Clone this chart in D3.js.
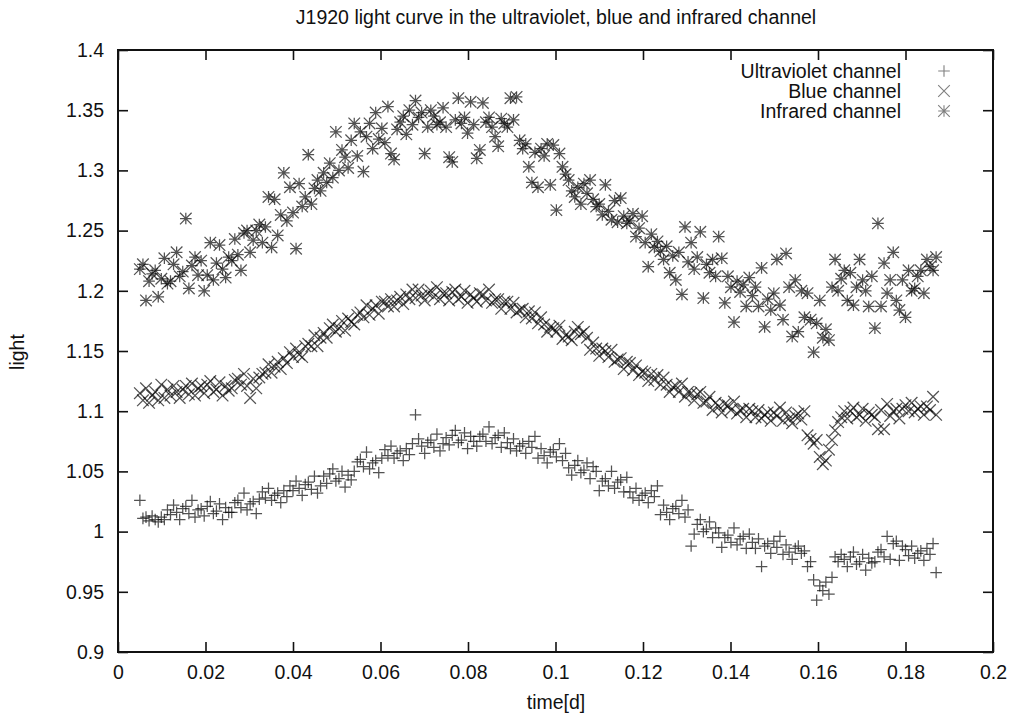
<!DOCTYPE html>
<html>
<head>
<meta charset="utf-8">
<script src="https://cdn.jsdelivr.net/npm/d3@7"></script>
<style>
  html, body { margin: 0; padding: 0; background: #fff; }
  svg { display: block; }
  text { font-family: "Liberation Sans", Arial, Helvetica, sans-serif; fill: #111; }
</style>
</head>
<body>
<svg id="chart" width="1018" height="713"></svg>
<script>
// Observation times [d], shared by the three channels
const times = [
  0.0050,0.0057,0.0064,0.0071,0.0078,0.0085,0.0092,0.0099,0.0106,0.0113,
  0.0120,0.0127,0.0134,0.0141,0.0148,0.0155,0.0162,0.0169,0.0176,0.0183,
  0.0190,0.0197,0.0204,0.0211,0.0218,0.0225,0.0232,0.0239,0.0246,0.0253,
  0.0260,0.0267,0.0274,0.0281,0.0288,0.0295,0.0302,0.0309,0.0316,0.0323,
  0.0330,0.0337,0.0344,0.0351,0.0358,0.0365,0.0372,0.0379,0.0386,0.0393,
  0.0400,0.0407,0.0414,0.0421,0.0428,0.0435,0.0442,0.0449,0.0456,0.0463,
  0.0470,0.0477,0.0484,0.0491,0.0498,0.0505,0.0512,0.0519,0.0526,0.0533,
  0.0540,0.0547,0.0554,0.0561,0.0568,0.0575,0.0582,0.0589,0.0596,0.0603,
  0.0610,0.0617,0.0624,0.0631,0.0638,0.0645,0.0652,0.0659,0.0666,0.0673,
  0.0680,0.0687,0.0694,0.0701,0.0708,0.0715,0.0722,0.0729,0.0736,0.0743,
  0.0750,0.0757,0.0764,0.0771,0.0778,0.0785,0.0792,0.0799,0.0806,0.0813,
  0.0820,0.0827,0.0834,0.0841,0.0848,0.0855,0.0862,0.0869,0.0876,0.0883,
  0.0890,0.0897,0.0904,0.0911,0.0918,0.0925,0.0932,0.0939,0.0946,0.0953,
  0.0960,0.0967,0.0974,0.0981,0.0988,0.0995,0.1002,0.1009,0.1016,0.1023,
  0.1030,0.1037,0.1044,0.1051,0.1058,0.1065,0.1072,0.1079,0.1086,0.1093,
  0.1100,0.1107,0.1114,0.1121,0.1128,0.1135,0.1142,0.1149,0.1156,0.1163,
  0.1170,0.1177,0.1184,0.1191,0.1198,0.1205,0.1212,0.1219,0.1226,0.1233,
  0.1240,0.1247,0.1254,0.1261,0.1268,0.1275,0.1282,0.1289,0.1296,0.1303,
  0.1310,0.1317,0.1324,0.1331,0.1338,0.1345,0.1352,0.1359,0.1366,0.1373,
  0.1380,0.1387,0.1394,0.1401,0.1408,0.1415,0.1422,0.1429,0.1436,0.1443,
  0.1450,0.1457,0.1464,0.1471,0.1478,0.1485,0.1492,0.1499,0.1506,0.1513,
  0.1520,0.1527,0.1534,0.1541,0.1548,0.1555,0.1562,0.1569,0.1576,0.1583,
  0.1590,0.1597,0.1604,0.1611,0.1618,0.1625,0.1632,0.1639,0.1646,0.1653,
  0.1660,0.1667,0.1674,0.1681,0.1688,0.1695,0.1702,0.1709,0.1716,0.1723,
  0.1730,0.1737,0.1744,0.1751,0.1758,0.1765,0.1772,0.1779,0.1786,0.1793,
  0.1800,0.1807,0.1814,0.1821,0.1828,0.1835,0.1842,0.1849,0.1856,0.1863,
  0.1870
];

// Relative light, ultraviolet channel
const ultraviolet = [
  1.026,1.011,1.012,1.009,1.013,1.010,1.008,1.012,1.010,1.018,
  1.014,1.022,1.016,1.010,1.019,1.021,1.015,1.026,1.012,1.018,
  1.019,1.013,1.021,1.025,1.015,1.017,1.023,1.010,1.020,1.016,
  1.016,1.024,1.026,1.020,1.032,1.018,1.023,1.025,1.015,1.027,
  1.033,1.028,1.036,1.026,1.030,1.032,1.024,1.034,1.029,1.038,
  1.034,1.042,1.036,1.030,1.039,1.041,1.035,1.046,1.032,1.038,
  1.046,1.040,1.048,1.052,1.042,1.044,1.050,1.037,1.047,1.043,
  1.050,1.058,1.060,1.054,1.066,1.052,1.057,1.059,1.049,1.061,
  1.068,1.063,1.071,1.061,1.065,1.067,1.059,1.069,1.064,1.073,
  1.097,1.077,1.071,1.065,1.074,1.076,1.070,1.081,1.067,1.073,
  1.078,1.072,1.080,1.084,1.074,1.076,1.082,1.069,1.079,1.075,
  1.071,1.079,1.081,1.075,1.087,1.073,1.078,1.080,1.070,1.082,
  1.074,1.069,1.077,1.067,1.071,1.073,1.065,1.075,1.070,1.079,
  1.061,1.069,1.063,1.057,1.066,1.068,1.062,1.073,1.059,1.065,
  1.053,1.047,1.055,1.059,1.049,1.051,1.057,1.044,1.054,1.050,
  1.034,1.042,1.044,1.038,1.050,1.036,1.041,1.043,1.033,1.045,
  1.033,1.028,1.036,1.026,1.030,1.032,1.024,1.034,1.029,1.038,
  1.014,1.022,1.016,1.010,1.019,1.021,1.015,1.026,1.012,1.018,
  0.988,0.998,1.006,1.010,1.000,1.002,1.008,0.995,1.003,0.999,
  0.987,0.995,0.997,0.991,1.003,0.989,0.994,0.996,0.986,0.998,
  0.991,0.986,0.994,0.971,0.988,0.990,0.982,0.992,0.987,0.996,
  0.981,0.989,0.983,0.977,0.986,0.988,0.982,0.984,0.971,0.975,
  0.960,0.943,0.955,0.951,0.958,0.948,0.962,0.979,0.975,0.981,
  0.977,0.971,0.979,0.983,0.973,0.975,0.981,0.968,0.978,0.974,
  0.975,0.983,0.985,0.979,0.996,0.977,0.990,0.992,0.976,0.988,
  0.985,0.980,0.988,0.978,0.982,0.984,0.976,0.986,0.981,0.990,
  0.966
];

// Relative light, blue channel
const blue = [
  1.115,1.109,1.119,1.107,1.113,1.116,1.109,1.122,1.111,1.118,
  1.113,1.121,1.116,1.111,1.118,1.121,1.114,1.123,1.113,1.119,
  1.121,1.115,1.122,1.125,1.116,1.118,1.124,1.113,1.121,1.117,
  1.119,1.126,1.127,1.122,1.131,1.121,1.111,1.127,1.119,1.128,
  1.131,1.132,1.139,1.132,1.137,1.141,1.135,1.144,1.140,1.149,
  1.145,1.152,1.147,1.145,1.154,1.156,1.154,1.163,1.154,1.161,
  1.165,1.161,1.169,1.172,1.166,1.169,1.175,1.167,1.177,1.174,
  1.172,1.180,1.182,1.178,1.188,1.180,1.185,1.188,1.181,1.191,
  1.191,1.187,1.193,1.187,1.192,1.195,1.189,1.197,1.193,1.201,
  1.194,1.201,1.196,1.192,1.198,1.200,1.195,1.203,1.193,1.198,
  1.198,1.192,1.199,1.201,1.193,1.195,1.200,1.190,1.197,1.194,
  1.191,1.198,1.197,1.192,1.201,1.190,1.193,1.193,1.185,1.191,
  1.191,1.185,1.190,1.182,1.184,1.185,1.178,1.183,1.177,1.182,
  1.173,1.178,1.172,1.166,1.170,1.169,1.166,1.171,1.160,1.163,
  1.162,1.159,1.166,1.170,1.164,1.166,1.161,1.151,1.157,1.152,
  1.146,1.152,1.150,1.145,1.151,1.141,1.143,1.144,1.135,1.141,
  1.140,1.134,1.138,1.130,1.133,1.132,1.125,1.131,1.126,1.130,
  1.122,1.128,1.122,1.116,1.120,1.121,1.116,1.123,1.112,1.116,
  1.115,1.109,1.114,1.116,1.107,1.108,1.112,1.101,1.107,1.104,
  1.099,1.106,1.105,1.101,1.108,1.098,1.101,1.102,1.095,1.102,
  1.100,1.095,1.101,1.094,1.097,1.099,1.092,1.099,1.096,1.103,
  1.092,1.099,1.094,1.090,1.096,1.098,1.093,1.100,1.080,1.077,
  1.073,1.076,1.062,1.056,1.059,1.068,1.076,1.084,1.091,1.095,
  1.100,1.094,1.100,1.103,1.095,1.097,1.102,1.092,1.099,1.097,
  1.095,1.085,1.101,1.085,1.106,1.096,1.100,1.102,1.094,1.102,
  1.105,1.100,1.107,1.099,1.102,1.104,1.097,1.104,1.101,1.112,
  1.097
];

// Relative light, infrared channel
const infrared = [
  1.218,1.222,1.192,1.208,1.214,1.217,1.195,1.210,1.227,1.206,
  1.208,1.222,1.232,1.212,1.216,1.260,1.202,1.221,1.228,1.213,
  1.225,1.200,1.213,1.240,1.209,1.223,1.238,1.218,1.211,1.228,
  1.225,1.243,1.230,1.217,1.248,1.250,1.232,1.242,1.250,1.255,
  1.240,1.253,1.278,1.236,1.276,1.246,1.263,1.298,1.258,1.286,
  1.265,1.235,1.289,1.270,1.278,1.313,1.272,1.285,1.292,1.283,
  1.298,1.290,1.306,1.294,1.332,1.300,1.317,1.311,1.302,1.325,
  1.339,1.312,1.332,1.299,1.328,1.339,1.318,1.348,1.326,1.335,
  1.323,1.353,1.314,1.309,1.334,1.340,1.345,1.330,1.350,1.338,
  1.358,1.344,1.348,1.314,1.336,1.350,1.345,1.338,1.340,1.352,
  1.336,1.311,1.307,1.342,1.360,1.339,1.344,1.331,1.357,1.338,
  1.310,1.317,1.356,1.340,1.344,1.336,1.328,1.320,1.343,1.339,
  1.336,1.360,1.342,1.361,1.325,1.318,1.322,1.303,1.290,1.315,
  1.286,1.318,1.312,1.322,1.288,1.321,1.267,1.314,1.303,1.297,
  1.292,1.283,1.278,1.286,1.272,1.289,1.281,1.292,1.276,1.270,
  1.272,1.263,1.288,1.266,1.259,1.275,1.257,1.277,1.262,1.256,
  1.258,1.264,1.245,1.252,1.262,1.240,1.220,1.247,1.236,1.241,
  1.233,1.226,1.237,1.215,1.229,1.209,1.232,1.197,1.253,1.224,
  1.240,1.218,1.228,1.249,1.194,1.222,1.215,1.226,1.212,1.245,
  1.227,1.190,1.212,1.203,1.174,1.208,1.199,1.205,1.187,1.211,
  1.196,1.203,1.187,1.219,1.170,1.193,1.184,1.198,1.226,1.188,
  1.176,1.231,1.203,1.162,1.209,1.166,1.200,1.178,1.198,1.176,
  1.149,1.173,1.192,1.161,1.168,1.159,1.203,1.226,1.200,1.210,
  1.217,1.192,1.215,1.188,1.203,1.226,1.209,1.200,1.187,1.212,
  1.169,1.256,1.187,1.223,1.198,1.209,1.232,1.192,1.184,1.209,
  1.178,1.217,1.200,1.202,1.212,1.217,1.198,1.226,1.220,1.217,
  1.228
];

const xTicks = [0, 0.02, 0.04, 0.06, 0.08, 0.1, 0.12, 0.14, 0.16, 0.18, 0.2];
const yTicks = [0.9, 0.95, 1, 1.05, 1.1, 1.15, 1.2, 1.25, 1.3, 1.35, 1.4];
const seriesNames = ["Ultraviolet channel", "Blue channel", "Infrared channel"];

// ---- layout ----
const svg = d3.select("#chart");
const plot = { left: 118, right: 993, top: 50, bottom: 652 };
const x = d3.scaleLinear().domain([0, 0.2]).range([plot.left, plot.right]);
const y = d3.scaleLinear().domain([0.9, 1.4]).range([plot.bottom, plot.top]);
const tickLen = 10;
const fontSize = 19.5;

// point glyphs (gnuplot style: plus, cross, asterisk)
const glyph = {
  plus: r => `M${-r},0H${r}M0,${-r}V${r}`,
  times: r => `M${-r},${-r}L${r},${r}M${-r},${r}L${r},${-r}`,
  star: r => `M${-r},0H${r}M0,${-r}V${r}M${-r},${-r}L${r},${r}M${-r},${r}L${r},${-r}`
};
const seriesGlyphs = [glyph.plus(5.8), glyph.times(5.8), glyph.star(5.8)];
const seriesValues = [ultraviolet, blue, infrared];

// ---- axes (ticks pointing inwards on all four sides) ----
const fmt = d => String(+d.toFixed(3));

const gx = svg.append("g").attr("transform", `translate(0,${plot.bottom})`)
  .call(d3.axisBottom(x).tickValues(xTicks).tickSize(-tickLen).tickPadding(13).tickFormat(fmt));
const gxt = svg.append("g").attr("transform", `translate(0,${plot.top})`)
  .call(d3.axisTop(x).tickValues(xTicks).tickSize(-tickLen).tickFormat(""));
const gy = svg.append("g").attr("transform", `translate(${plot.left},0)`)
  .call(d3.axisLeft(y).tickValues(yTicks).tickSize(-tickLen).tickPadding(14).tickFormat(fmt));
const gyr = svg.append("g").attr("transform", `translate(${plot.right},0)`)
  .call(d3.axisRight(y).tickValues(yTicks).tickSize(-tickLen).tickFormat(""));

[gx, gxt, gy, gyr].forEach(g => {
  g.select(".domain").remove();
  g.selectAll(".tick line").attr("stroke", "#111").attr("stroke-width", 1.6);
  g.selectAll(".tick text")
    .attr("font-family", "Liberation Sans, Arial, sans-serif")
    .attr("font-size", fontSize).attr("fill", "#111");
});

// frame
svg.append("rect")
  .attr("x", plot.left).attr("y", plot.top)
  .attr("width", plot.right - plot.left).attr("height", plot.bottom - plot.top)
  .attr("fill", "none").attr("stroke", "#111").attr("stroke-width", 2);

// ---- data points ----
const pts = svg.append("g")
  .attr("fill", "none")
  .attr("stroke", "#000")
  .attr("stroke-opacity", 0.68)
  .attr("stroke-width", 1.25);

seriesValues.forEach((vals, s) => {
  pts.append("g").selectAll("path")
    .data(times.map((t, i) => ({ t, v: vals[i] })))
    .join("path")
    .attr("transform", d => `translate(${x(d.t)},${y(d.v)})`)
    .attr("d", seriesGlyphs[s]);
});

// ---- legend ----
const legend = svg.append("g");
seriesNames.forEach((name, i) => {
  const ly = 71 + i * 20;
  legend.append("text")
    .attr("x", 901).attr("y", ly).attr("dy", "0.35em")
    .attr("text-anchor", "end").attr("font-size", fontSize)
    .text(name);
  legend.append("path")
    .attr("transform", `translate(944,${ly})`)
    .attr("d", seriesGlyphs[i])
    .attr("fill", "none").attr("stroke", "#000")
    .attr("stroke-opacity", 0.5).attr("stroke-width", 1.1);
});

// ---- titles ----
svg.append("text")
  .attr("x", 556).attr("y", 24)
  .attr("text-anchor", "middle").attr("font-size", fontSize)
  .text("J1920 light curve in the ultraviolet, blue and infrared channel");

svg.append("text")
  .attr("x", 556).attr("y", 709)
  .attr("text-anchor", "middle").attr("font-size", fontSize)
  .text("time[d]");

svg.append("text")
  .attr("transform", "translate(24,352) rotate(-90)")
  .attr("text-anchor", "middle").attr("font-size", fontSize)
  .text("light");
</script>
</body>
</html>
